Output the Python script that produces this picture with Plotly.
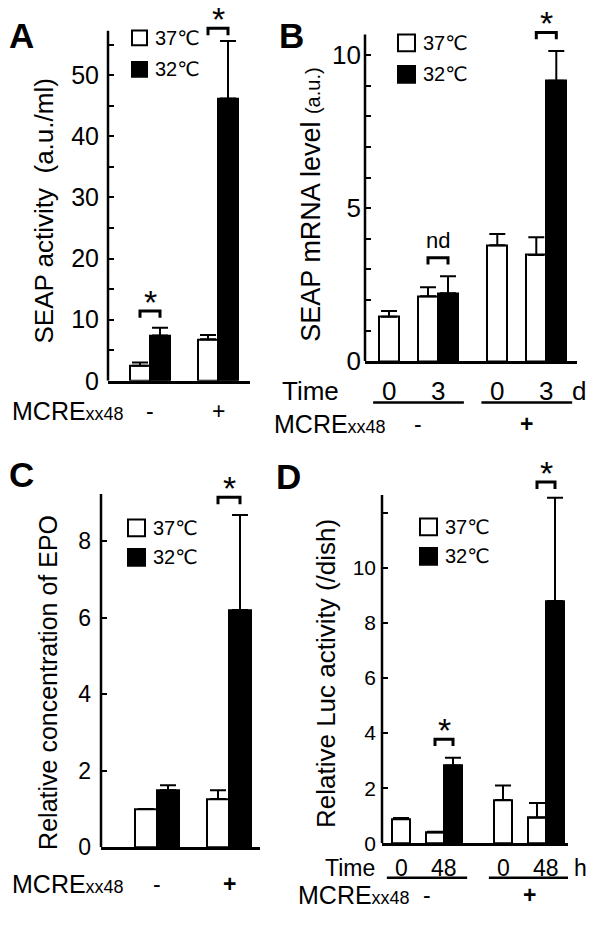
import plotly.graph_objects as go

W, H = 600, 936
FONT = "Liberation Sans, Arial, Helvetica, sans-serif"
SYMF = "Liberation Sans, DejaVu Sans, Noto Sans CJK JP, sans-serif"

# ---------------- data ----------------
legend_labels = ["37℃", "32℃"]

A_groups = ["-", "+"]
A_white = [2.45, 6.8]
A_white_err = [0.55, 0.7]
A_black = [7.4, 46.2]
A_black_err = [1.3, 9.4]
A_sig = ["*", "*"]
A_yticks = [0, 5, 10, 15, 20, 25, 30, 35, 40, 45, 50, 55]
A_yticktext = ["0", "", "10", "", "20", "", "30", "", "40", "", "50", ""]
A_title = "SEAP activity\u00a0\u00a0(a.u./ml)"

B_time = ["0", "3", "0", "3"]
B_groups = ["-", "-", "+", "+"]
B_white = [1.45, 2.12, 3.79, 3.47]
B_white_err = [0.19, 0.29, 0.36, 0.58]
B_black = [None, 2.22, None, 9.16]
B_black_err = [None, 0.55, None, 0.97]
B_sig = [None, "nd", None, "*"]
B_yticks = [0, 1, 2, 3, 4, 5, 6, 7, 8, 9, 10]
B_yticktext = ["0", "", "", "", "", "5", "", "", "", "", "10"]
B_title = "SEAP mRNA level <span style='font-size:20px'>(a.u.)</span>"
B_time_unit = "d"

C_groups = ["-", "+"]
C_white = [1.0, 1.26]
C_white_err = [0, 0.23]
C_black = [1.49, 6.2]
C_black_err = [0.13, 2.48]
C_sig = [None, "*"]
C_yticks = [0, 2, 4, 6, 8]
C_yticktext = ["0", "2", "4", "6", "8"]
C_title = "Relative concentration of EPO"

D_time = ["0", "48", "0", "48"]
D_groups = ["-", "-", "+", "+"]
D_white = [0.89, 0.39, 1.57, 0.93]
D_white_err = [0.03, 0.03, 0.53, 0.53]
D_black = [None, 2.82, None, 8.79]
D_black_err = [None, 0.28, None, 3.75]
D_sig = [None, "*", None, "*"]
D_yticks = [0, 2, 4, 6, 8, 10, 12]
D_yticktext = ["0", "2", "4", "6", "8", "10", ""]
D_title = "Relative Luc activity (/dish)"
D_time_unit = "h"

MCRE_label = "MCRE<span style='font-size:18px'>xx48</span>"

# ---------------- layout (pixels) ----------------
panels = [
    dict(letter="A", n="", groups=A_groups, time=None, unit=None,
         white=A_white, werr=A_white_err, black=A_black, berr=A_black_err, sig=A_sig,
         yt=A_yticks, ytt=A_yticktext, title=A_title, title_font=26, title_xy=(44, 215),
         x_px=(108, 250), first_px=150, unit_px=68, gap=0, bar_px=20,
         zero_px=387, ppu=6.21, axis_top=57.3, ymax=58.6, tickfont=25, standoff=8,
         label_xy=(21, 36), legend=(132, 31, 15, 32), pads=[17, 13],
         mcre=(10, 418), grp_y=418, bold_plus=False),
    dict(letter="B", n="2", groups=B_groups, time=B_time, unit=B_time_unit,
         white=B_white, werr=B_white_err, black=B_black, berr=B_black_err, sig=B_sig,
         yt=B_yticks, ytt=B_yticktext, title=B_title, title_font=27, title_xy=(311, 208),
         x_px=(365, 577), first_px=389, unit_px=49, gap=0.21, bar_px=20,
         zero_px=367, ppu=31.1, axis_top=10.67, ymax=10.9, tickfont=26, standoff=3,
         label_xy=(291, 36), legend=(398, 35, 17, 32), pads=[0, 19, 0, 19],
         mcre=(272, 431), grp_y=431, bold_plus=True,
         time_y=397, time_x=341, time_font=26, uline_y=409, unit_x=579),
    dict(letter="C", n="3", groups=C_groups, time=None, unit=None,
         white=C_white, werr=C_white_err, black=C_black, berr=C_black_err, sig=C_sig,
         yt=C_yticks, ytt=C_yticktext, title=C_title, title_font=25, title_xy=(48, 694),
         x_px=(101, 260), first_px=157, unit_px=72, gap=0, bar_px=22,
         zero_px=861, ppu=38.9, axis_top=9.23, ymax=9.3, tickfont=23, standoff=9,
         label_xy=(21, 482), legend=(128, 528, 17, 30), pads=[0, 18],
         mcre=(10, 898), grp_y=898, bold_plus=True),
    dict(letter="D", n="4", groups=D_groups, time=D_time, unit=D_time_unit,
         white=D_white, werr=D_white_err, black=D_black, berr=D_black_err, sig=D_sig,
         yt=D_yticks, ytt=D_yticktext, title=D_title, title_font=26, title_xy=(326, 685),
         x_px=(382, 568), first_px=401, unit_px=43, gap=0.372, bar_px=18,
         zero_px=857, ppu=28.0, axis_top=12.64, ymax=13.25, tickfont=21, standoff=5,
         label_xy=(288, 484), legend=(420, 527, 17, 30), pads=[0, 19, 0, 16],
         mcre=(296, 910), grp_y=910, bold_plus=True,
         time_y=882, time_x=377, time_font=23, uline_y=892, unit_x=580),
]


def pxx(px):
    return px / W


def pxy(py):
    return 1 - py / H


fig = go.Figure()
shapes = []
annos = []
layout_axes = {}

for P in panels:
    n = P["n"]
    xa, ya = "x" + n, "y" + n
    cats = len(P["white"])
    # category positions with a gap between groups
    pos, g = [], 0
    for i, grp in enumerate(P["groups"]):
        if i > 0 and grp != P["groups"][i - 1]:
            g += 1
        pos.append(i + g * P["gap"])
    w = P["bar_px"] / P["unit_px"]
    xmin = (P["x_px"][0] - P["first_px"]) / P["unit_px"]
    xmax = (P["x_px"][1] - P["first_px"]) / P["unit_px"]

    wx, wy, we, bx, by, be = [], [], [], [], [], []
    for i in range(cats):
        if P["black"][i] is None:
            wx.append(pos[i])
        else:
            wx.append(pos[i] - w / 2)
            bx.append(pos[i] + w / 2)
            by.append(P["black"][i])
            be.append(P["berr"][i])
        wy.append(P["white"][i])
        we.append(P["werr"][i])

    err_style = dict(type="data", symmetric=False, color="black", thickness=2, width=8)
    fig.add_trace(go.Bar(x=wx, y=wy, width=w, xaxis=xa, yaxis=ya, name=legend_labels[0],
                         marker=dict(color="white", line=dict(color="black", width=2)),
                         error_y=dict(array=we, arrayminus=[0] * len(we), **err_style),
                         showlegend=False))
    fig.add_trace(go.Bar(x=bx, y=by, width=w, xaxis=xa, yaxis=ya, name=legend_labels[1],
                         marker=dict(color="black", line=dict(color="black", width=2)),
                         error_y=dict(array=be, arrayminus=[0] * len(be), **err_style),
                         showlegend=False))

    top_px = P["zero_px"] - P["ymax"] * P["ppu"]
    layout_axes["xaxis" + n] = dict(domain=[pxx(P["x_px"][0]), pxx(P["x_px"][1])],
                                    range=[xmin, xmax], anchor=ya, showline=True,
                                    linecolor="black", linewidth=2.5, showgrid=False,
                                    zeroline=False, showticklabels=False, ticks="",
                                    fixedrange=True)
    layout_axes["yaxis" + n] = dict(domain=[pxy(P["zero_px"]), pxy(top_px)],
                                    range=[0, P["ymax"]], anchor=xa, showline=False,
                                    showgrid=False, zeroline=False, ticks="inside",
                                    ticklen=6, tickwidth=2, tickcolor="black",
                                    tickmode="array", tickvals=P["yt"], ticktext=P["ytt"],
                                    tickfont=dict(family=FONT, size=P["tickfont"], color="black"),
                                    ticklabelstandoff=P["standoff"], fixedrange=True)
    # y axis line up to its top tick region
    shapes.append(dict(type="line", xref=xa + " domain", yref=ya, x0=0, x1=0,
                       y0=0, y1=P["axis_top"], line=dict(color="black", width=2.5)))

    # significance brackets
    leg = 7 / P["ppu"]
    for i, s in enumerate(P["sig"]):
        if not s:
            continue
        tops = [P["white"][i] + (P["werr"][i] or 0)]
        if P["black"][i] is not None:
            tops.append(P["black"][i] + (P["berr"][i] or 0))
        yt = max(tops) + P["pads"][i] / P["ppu"]
        x0, x1 = pos[i] - w / 2, pos[i] + w / 2
        shapes.append(dict(type="path", xref=xa, yref=ya,
                           path=f"M{x0},{yt - leg} L{x0},{yt} L{x1},{yt} L{x1},{yt - leg}",
                           line=dict(color="black", width=3)))
        if s == "*":
            annos.append(dict(x=pos[i], y=yt, xref=xa, yref=ya, text="*", showarrow=False,
                              xanchor="center", yanchor="middle", yshift=9,
                              font=dict(family=SYMF, size=34, color="black")))
        else:
            annos.append(dict(x=pos[i], y=yt, xref=xa, yref=ya, text=s, showarrow=False,
                              xanchor="center", yanchor="middle", yshift=17,
                              font=dict(family=FONT, size=22, color="black")))

    # legend (boxes + labels)
    lx, ly, bs, sp = P["legend"]
    for k, col in enumerate(["white", "black"]):
        y0 = ly + k * sp
        shapes.append(dict(type="rect", xref="paper", yref="paper",
                           x0=pxx(lx), x1=pxx(lx + bs), y0=pxy(y0), y1=pxy(y0 + bs),
                           fillcolor=col, line=dict(color="black", width=2)))
        annos.append(dict(x=pxx(lx + bs + 6), y=pxy(y0 + bs / 2), xref="paper", yref="paper",
                          text=legend_labels[k], showarrow=False, xanchor="left",
                          yanchor="middle", font=dict(family=SYMF, size=20, color="black")))

    # panel letter
    annos.append(dict(x=pxx(P["label_xy"][0]), y=pxy(P["label_xy"][1]), xref="paper",
                      yref="paper", text="<b>" + P["letter"] + "</b>", showarrow=False,
                      xanchor="center", yanchor="middle",
                      font=dict(family=FONT, size=35, color="black")))
    # y title
    annos.append(dict(x=pxx(P["title_xy"][0]), y=pxy(P["title_xy"][1]), xref="paper",
                      yref="paper", text=P["title"], textangle=-90, showarrow=False,
                      xanchor="center", yanchor="middle",
                      font=dict(family=FONT, size=P["title_font"], color="black")))
    # MCRExx48 row
    annos.append(dict(x=pxx(P["mcre"][0]), y=pxy(P["mcre"][1]), xref="paper", yref="paper",
                      text=MCRE_label, showarrow=False, xanchor="left", yanchor="middle",
                      font=dict(family=FONT, size=25, color="black")))

    # group labels (- / +), time labels and underlines
    pad = 0.12
    group_names = []
    for grp in P["groups"]:
        if grp not in group_names:
            group_names.append(grp)
    for grp in group_names:
        idx = [i for i, gname in enumerate(P["groups"]) if gname == grp]
        lefts, rights = [], []
        for i in idx:
            if P["black"][i] is None:
                lefts.append(pos[i] - w / 2)
                rights.append(pos[i] + w / 2)
            else:
                lefts.append(pos[i] - w)
                rights.append(pos[i] + w)
        if P["time"]:
            gx0, gx1 = min(lefts) - pad, max(rights) + pad
            gx = (gx0 + gx1) / 2
            shapes.append(dict(type="line", xref=xa, yref="paper", x0=gx0, x1=gx1,
                               y0=pxy(P["uline_y"]), y1=pxy(P["uline_y"]),
                               line=dict(color="black", width=2.5)))
        else:
            gx = pos[idx[0]]
        txt = grp
        if grp == "+" and P["bold_plus"]:
            txt = "<b>+</b>"
        annos.append(dict(x=gx, y=pxy(P["grp_y"]), xref=xa, yref="paper", text=txt,
                          showarrow=False, xanchor="center", yanchor="middle",
                          font=dict(family=FONT, size=23, color="black")))
    if P["time"]:
        annos.append(dict(x=pxx(P["time_x"]), y=pxy(P["time_y"]), xref="paper", yref="paper",
                          text="Time", showarrow=False, xanchor="right", yanchor="middle",
                          font=dict(family=FONT, size=P["time_font"], color="black")))
        for i, t in enumerate(P["time"]):
            annos.append(dict(x=pos[i], y=pxy(P["time_y"]), xref=xa, yref="paper", text=t,
                              showarrow=False, xanchor="center", yanchor="middle",
                              font=dict(family=FONT, size=P["time_font"], color="black")))
        annos.append(dict(x=pxx(P["unit_x"]), y=pxy(P["time_y"]), xref="paper", yref="paper",
                          text=P["unit"], showarrow=False, xanchor="center", yanchor="middle",
                          font=dict(family=FONT, size=P["time_font"], color="black")))

fig.update_layout(width=W, height=H, margin=dict(l=0, r=0, t=0, b=0),
                  paper_bgcolor="white", plot_bgcolor="white", showlegend=False,
                  barmode="overlay", bargap=0, shapes=shapes, annotations=annos,
                  font=dict(family=FONT, color="black"), **layout_axes)

fig.write_html("out.html", config={"displayModeBar": False},
               post_script="document.body.style.margin='0px';"
                           "document.body.style.overflow='hidden';")
